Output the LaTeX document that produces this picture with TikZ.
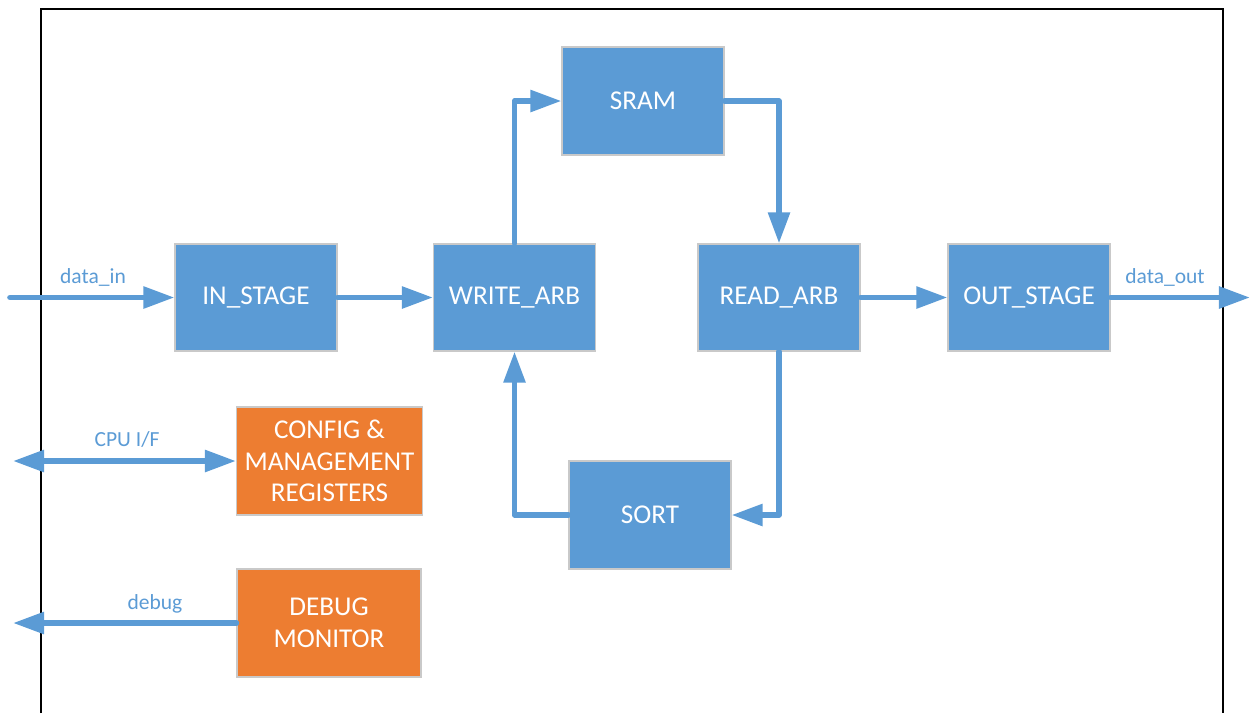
\documentclass[tikz,border=0pt]{standalone}
\usepackage{fontspec}
\setmainfont{Carlito}
\usetikzlibrary{arrows.meta}
\definecolor{blk}{HTML}{5B9BD5}
\definecolor{org}{HTML}{ED7D31}
\definecolor{edge}{HTML}{C9C9C9}
\begin{document}
\begin{tikzpicture}[x=0.5669pt,y=-0.5669pt,
  box/.style={draw=edge,line width=0.6pt,fill=blk,text=white,inner sep=0pt,
    minimum width=162*0.5669pt,minimum height=107*0.5669pt,align=center,
    font=\fontsize{15.4pt}{18pt}\selectfont},
  obox/.style={box,fill=org,minimum width=186*0.5669pt,minimum height=108*0.5669pt},
  conn/.style={draw=blk,line width=3.2pt,line cap=round,line join=round,
    -{Triangle[length=17.6pt,width=11.9pt]}},
  lbl/.style={text=blk,inner sep=0pt,anchor=base,font=\fontsize{12.2pt}{14pt}\selectfont}]
\useasboundingbox (0,0) rectangle (1250,713);
% frame
\draw[line width=0.7pt] (41,713) -- (41,9) -- (1223,9) -- (1223,713);
% blocks
\node[box] (in) at (256,297.5) {IN\_STAGE};
\node[box] (write) at (514.5,297.5) {WRITE\_ARB};
\node[box,minimum height=108*0.5669pt] (sram) at (643,101) {SRAM};
\node[box] (read) at (779,297.5) {READ\_ARB};
\node[box] (out) at (1029,297.5) {OUT\_STAGE};
\node[box,minimum height=108*0.5669pt] (sort) at (650,515) {SORT};
\node[obox] (config) at (329.5,461) {CONFIG \&\\MANAGEMENT\\REGISTERS};
\node[obox,minimum width=184*0.5669pt] (debug) at (329,623) {DEBUG\\MONITOR};
% free ends
\coordinate (inS) at (10,297.5);
\coordinate (outE) at (1250,297.5);
\coordinate (cpuL) at (13,461);
\coordinate (dbgL) at (13,623);
% connectors
\draw[conn] (inS) -- (in.west);
\draw[conn] (in.east) -- (write.west);
\draw[conn] (write.north) |- (sram.west);
\draw[conn] (sram.east) -| (read.north);
\draw[conn] (read.east) -- (out.west);
\draw[conn] (out.east) -- (outE);
\draw[conn] (read.south) |- (sort.east);
\draw[conn] (sort.west) -| (write.south);
\draw[conn,{Triangle[length=17.6pt,width=11.9pt]}-{Triangle[length=17.6pt,width=11.9pt]}] (cpuL) -- (config.west);
\draw[conn] (debug.west) -- (dbgL);
% labels
\node[lbl] (lin) at (93,283) {data\_in};
\node[lbl] (lout) at (1165,283) {data\_out};
\node[lbl] (lcpu) at (127,446) {CPU I/F};
\node[lbl] (ldbg) at (155,609) {debug};
\end{tikzpicture}
\end{document}
